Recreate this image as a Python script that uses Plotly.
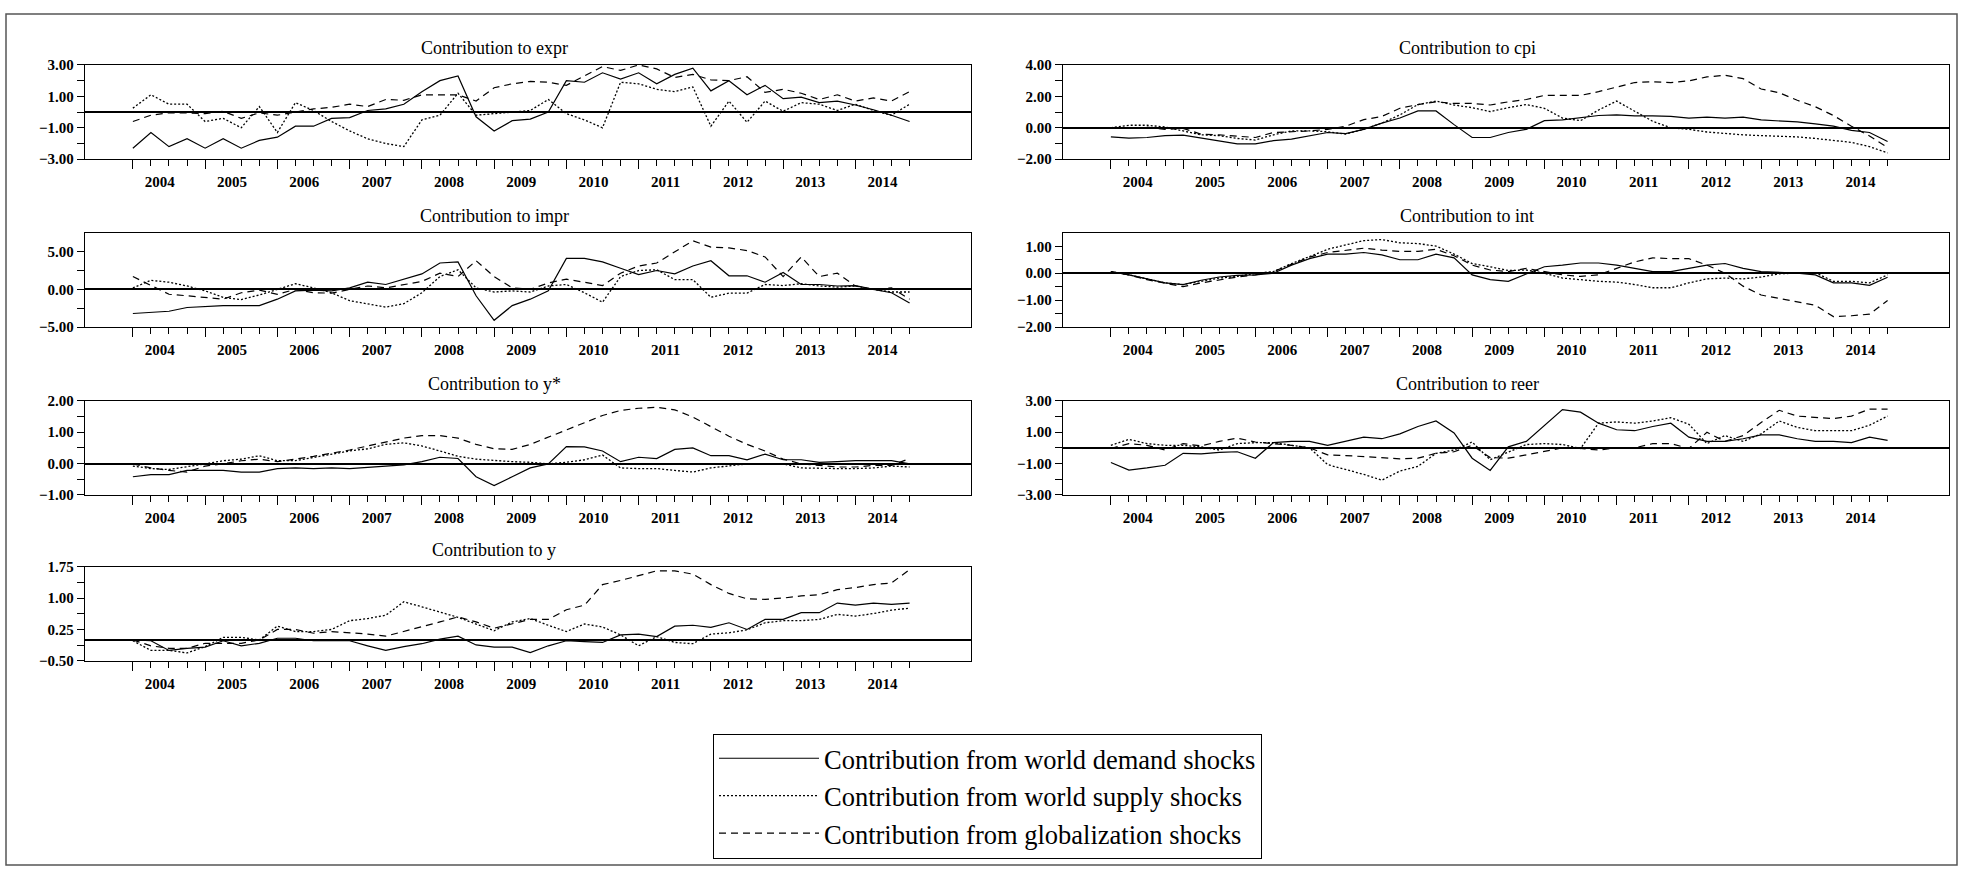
import plotly.graph_objects as go

# ---------------- data (quarterly, 2004Q1 .. 2014Q4) ----------------
quarters = [f"{yr}Q{q}" for yr in range(2004, 2015) for q in range(1, 5)]
years = [str(yr) for yr in range(2004, 2015)]

expr_demand = [-2.3, -1.3, -2.2, -1.7, -2.3, -1.7, -2.3, -1.8, -1.6, -0.9,
               -0.9, -0.4, -0.35, 0.1, 0.2, 0.5, 1.3, 2.0, 2.3, -0.3,
               -1.2, -0.55, -0.45, 0.0, 2.0, 1.9, 2.5, 2.1, 2.5, 1.8,
               2.4, 2.8, 1.35, 2.0, 1.1, 1.7, 0.85, 0.95, 0.6, 0.7,
               0.45, 0.15, -0.2, -0.6]
expr_supply = [0.25, 1.1, 0.5, 0.5, -0.6, -0.4, -1.0, 0.35, -1.3, 0.6,
               0.1, -0.6, -1.2, -1.7, -2.0, -2.2, -0.5, -0.2, 1.2, -0.2,
               -0.1, 0.0, 0.1, 0.8, -0.1, -0.5, -1.0, 1.9, 1.8, 1.45,
               1.3, 1.6, -0.9, 0.7, -0.65, 0.7, 0.05, 0.6, 0.5, 0.1,
               0.5, 0.1, -0.2, 0.5]
expr_glob = [-0.6, -0.2, -0.05, -0.05, -0.1, 0.05, -0.4, -0.05, -0.2, 0.0,
             0.2, 0.3, 0.5, 0.35, 0.8, 0.75, 1.1, 1.1, 1.1, 0.7,
             1.55, 1.8, 1.95, 1.9, 1.7, 2.3, 2.9, 2.65, 3.0, 2.75,
             2.2, 2.4, 2.05, 2.0, 2.25, 1.25, 1.45, 1.2, 0.8, 1.1,
             0.7, 0.9, 0.7, 1.3]

cpi_demand = [-0.58, -0.66, -0.62, -0.5, -0.47, -0.66, -0.82, -1.03, -1.03, -0.82,
              -0.72, -0.5, -0.3, -0.37, -0.1, 0.3, 0.62, 1.07, 1.07, 0.2,
              -0.62, -0.62, -0.3, -0.1, 0.45, 0.5, 0.62, 0.78, 0.82, 0.76,
              0.76, 0.72, 0.62, 0.68, 0.62, 0.68, 0.5, 0.45, 0.37, 0.25,
              0.1, -0.17, -0.3, -0.87]
cpi_supply = [0.0, 0.16, 0.16, 0.05, -0.2, -0.45, -0.5, -0.68, -0.78, -0.45,
              -0.2, -0.2, -0.25, -0.4, -0.1, 0.3, 0.82, 1.48, 1.7, 1.45,
              1.28, 1.03, 1.28, 1.48, 1.24, 0.62, 0.45, 1.13, 1.7, 1.03,
              0.41, 0.0, -0.1, -0.27, -0.37, -0.45, -0.5, -0.52, -0.58, -0.68,
              -0.82, -0.93, -1.2, -1.6]
cpi_glob = [-0.04, -0.04, 0.04, -0.1, -0.04, -0.41, -0.45, -0.52, -0.62, -0.3,
            -0.25, -0.2, -0.1, 0.1, 0.52, 0.72, 1.24, 1.48, 1.65, 1.55,
            1.55, 1.45, 1.65, 1.8, 2.06, 2.06, 2.06, 2.3, 2.58, 2.88,
            2.93, 2.88, 2.99, 3.24, 3.34, 3.13, 2.47, 2.23, 1.75, 1.34,
            0.78, 0.1, -0.52, -1.25]

impr_demand = [-3.2, -3.1, -2.9, -2.4, -2.3, -2.15, -2.15, -2.15, -1.3, -0.2,
               -0.1, -0.2, 0.2, 0.95, 0.65, 1.35, 2.05, 3.5, 3.65, -0.85,
               -4.1, -2.15, -1.3, -0.2, 4.1, 4.1, 3.65, 2.8, 1.95, 2.5,
               2.05, 3.1, 3.8, 1.8, 1.8, 0.95, 2.25, 0.65, 0.65, 0.45,
               0.5, 0.0, -0.45, -1.8]
impr_supply = [0.2, 1.2, 0.95, 0.45, -0.2, -1.05, -1.35, -0.75, 0.0, 0.75,
               0.2, -0.45, -1.5, -1.9, -2.35, -1.9, -0.45, 1.7, 2.6, 0.2,
               -0.35, -0.2, -0.35, 0.45, 0.65, -0.45, -1.7, 1.7, 2.5, 2.6,
               1.3, 1.3, -1.05, -0.5, -0.5, 0.65, 0.5, 0.75, 0.45, 0.3,
               0.45, 0.0, -0.35, -0.35]
impr_glob = [1.7, 0.5, -0.65, -0.85, -1.05, -1.3, -0.45, -0.1, -0.65, 0.0,
             -0.45, -0.5, 0.0, 0.45, 0.2, 0.65, 1.05, 2.15, 1.7, 3.8,
             1.7, 0.2, 0.0, 0.85, 1.35, 0.95, 0.5, 2.15, 3.1, 3.5,
             4.95, 6.45, 5.6, 5.5, 5.15, 4.3, 1.7, 4.3, 1.7, 2.15,
             0.45, 0.0, 0.2, -1.3]

int_demand = [0.06, -0.06, -0.21, -0.36, -0.42, -0.26, -0.14, -0.08, -0.06, 0.0,
              0.3, 0.54, 0.71, 0.71, 0.77, 0.68, 0.5, 0.5, 0.71, 0.57,
              -0.06, -0.24, -0.3, -0.02, 0.24, 0.3, 0.38, 0.38, 0.3, 0.18,
              0.06, 0.06, 0.18, 0.3, 0.36, 0.18, 0.06, 0.04, 0.0, -0.06,
              -0.36, -0.36, -0.45, -0.15]
int_supply = [0.06, -0.06, -0.21, -0.36, -0.42, -0.3, -0.18, -0.12, 0.0, 0.06,
              0.36, 0.62, 0.89, 1.05, 1.21, 1.25, 1.13, 1.1, 1.01, 0.71,
              0.36, 0.24, 0.1, 0.12, 0.0, -0.18, -0.24, -0.3, -0.33, -0.42,
              -0.54, -0.54, -0.36, -0.21, -0.18, -0.21, -0.14, -0.02, 0.0, 0.02,
              -0.3, -0.3, -0.36, -0.06]
int_glob = [0.06, -0.06, -0.24, -0.38, -0.5, -0.36, -0.24, -0.14, -0.06, 0.06,
            0.33, 0.6, 0.77, 0.86, 0.93, 0.86, 0.81, 0.81, 0.89, 0.65,
            0.3, 0.12, 0.06, 0.18, 0.06, -0.06, -0.12, -0.06, 0.18, 0.42,
            0.57, 0.54, 0.54, 0.3, 0.0, -0.48, -0.81, -0.93, -1.07, -1.19,
            -1.61, -1.58, -1.52, -1.01]

ystar_demand = [-0.42, -0.35, -0.35, -0.22, -0.22, -0.22, -0.27, -0.27, -0.16, -0.14,
                -0.16, -0.14, -0.16, -0.11, -0.08, -0.04, 0.06, 0.2, 0.16, -0.42,
                -0.7, -0.42, -0.14, -0.01, 0.54, 0.53, 0.4, 0.06, 0.2, 0.16,
                0.45, 0.5, 0.25, 0.25, 0.12, 0.3, 0.12, 0.12, 0.04, 0.06,
                0.09, 0.09, 0.09, -0.01]
ystar_supply = [-0.08, -0.16, -0.19, -0.11, -0.01, 0.09, 0.14, 0.25, 0.09, 0.09,
                0.2, 0.3, 0.4, 0.47, 0.61, 0.66, 0.56, 0.4, 0.23, 0.14,
                0.09, 0.06, 0.04, -0.01, 0.04, 0.12, 0.27, -0.14, -0.16, -0.16,
                -0.22, -0.27, -0.14, -0.08, -0.01, -0.01, -0.01, -0.14, -0.16, -0.16,
                -0.16, -0.14, -0.08, -0.11]
ystar_glob = [-0.01, -0.14, -0.22, -0.27, -0.08, -0.01, 0.09, 0.14, 0.06, 0.14,
              0.23, 0.33, 0.43, 0.56, 0.68, 0.81, 0.89, 0.89, 0.81, 0.61,
              0.47, 0.45, 0.61, 0.85, 1.07, 1.3, 1.53, 1.69, 1.76, 1.79,
              1.71, 1.48, 1.18, 0.87, 0.61, 0.4, 0.14, -0.01, -0.06, -0.11,
              -0.11, -0.06, -0.06, 0.16]

reer_demand = [-0.93, -1.42, -1.28, -1.11, -0.35, -0.39, -0.29, -0.25, -0.66, 0.33,
               0.41, 0.41, 0.16, 0.41, 0.68, 0.58, 0.89, 1.36, 1.71, 0.95,
               -0.66, -1.44, 0.06, 0.41, 1.4, 2.43, 2.27, 1.57, 1.15, 1.09,
               1.36, 1.57, 0.68, 0.41, 0.41, 0.58, 0.82, 0.82, 0.58, 0.41,
               0.41, 0.33, 0.68, 0.47]
reer_supply = [0.16, 0.54, 0.27, 0.16, 0.16, 0.06, -0.14, 0.27, 0.33, 0.33,
               0.16, 0.0, -1.07, -1.38, -1.69, -2.06, -1.48, -1.18, -0.35, -0.14,
               0.37, -0.76, -0.25, 0.21, 0.27, 0.21, -0.04, 1.57, 1.65, 1.57,
               1.71, 1.92, 1.5, 0.27, 0.78, 0.41, 0.89, 1.71, 1.3, 1.09,
               1.09, 1.09, 1.44, 2.02]
reer_glob = [-0.04, 0.27, 0.16, -0.14, 0.27, 0.12, 0.41, 0.62, 0.37, 0.27,
             0.16, 0.0, -0.45, -0.49, -0.56, -0.62, -0.7, -0.66, -0.35, -0.25,
             0.16, -0.62, -0.66, -0.45, -0.21, 0.0, -0.04, -0.14, 0.0, 0.0,
             0.27, 0.27, -0.04, 0.99, 0.41, 0.78, 1.61, 2.39, 2.02, 1.92,
             1.86, 2.02, 2.47, 2.47]

y_demand = [0.0, -0.02, -0.25, -0.2, -0.17, -0.02, -0.14, -0.08, 0.04, 0.04,
            -0.02, -0.02, -0.02, -0.14, -0.25, -0.16, -0.09, 0.02, 0.09, -0.12,
            -0.17, -0.17, -0.3, -0.14, -0.02, -0.04, -0.06, 0.12, 0.14, 0.08,
            0.33, 0.35, 0.3, 0.41, 0.25, 0.49, 0.49, 0.65, 0.65, 0.88,
            0.83, 0.88, 0.85, 0.88]
y_supply = [-0.02, -0.25, -0.25, -0.31, -0.16, 0.06, 0.06, 0.0, 0.33, 0.2,
            0.2, 0.25, 0.46, 0.51, 0.59, 0.91, 0.79, 0.67, 0.54, 0.38,
            0.22, 0.43, 0.51, 0.35, 0.2, 0.38, 0.31, 0.12, -0.14, 0.08,
            -0.06, -0.09, 0.14, 0.17, 0.24, 0.41, 0.46, 0.46, 0.49, 0.61,
            0.57, 0.63, 0.71, 0.76]
y_glob = [0.0, -0.14, -0.2, -0.2, -0.08, -0.08, -0.08, 0.0, 0.25, 0.25,
          0.16, 0.2, 0.17, 0.14, 0.09, 0.2, 0.31, 0.43, 0.55, 0.43,
          0.28, 0.38, 0.49, 0.49, 0.72, 0.83, 1.32, 1.42, 1.54, 1.65,
          1.65, 1.57, 1.32, 1.11, 0.98, 0.97, 1.0, 1.05, 1.08, 1.2,
          1.25, 1.32, 1.36, 1.68]

series_names = ["Contribution from world demand shocks",
                "Contribution from world supply shocks",
                "Contribution from globalization shocks"]

# panel: title, series, y range, labelled ticks, minor ticks, (row, col)
panels = [
    ("Contribution to expr", (expr_demand, expr_supply, expr_glob), [-3, 3], [-3, -1, 1, 3], [-2, 0, 2], (0, 0)),
    ("Contribution to cpi", (cpi_demand, cpi_supply, cpi_glob), [-2, 4], [-2, 0, 2, 4], [-1, 1, 3], (0, 1)),
    ("Contribution to impr", (impr_demand, impr_supply, impr_glob), [-5, 7.5], [-5, 0, 5], [-2.5, 2.5], (1, 0)),
    ("Contribution to int", (int_demand, int_supply, int_glob), [-2, 1.5], [-2, -1, 0, 1], [-1.5, -0.5, 0.5], (1, 1)),
    ("Contribution to y*", (ystar_demand, ystar_supply, ystar_glob), [-1, 2], [-1, 0, 1, 2], [-0.5, 0.5, 1.5], (2, 0)),
    ("Contribution to reer", (reer_demand, reer_supply, reer_glob), [-3, 3], [-3, -1, 1, 3], [-2, 0, 2], (2, 1)),
    ("Contribution to y", (y_demand, y_supply, y_glob), [-0.5, 1.75], [-0.5, 0.25, 1.0, 1.75], [-0.125, 0.625, 1.375], (3, 0)),
]

# ---------------- layout geometry (pixels) ----------------
W, H = 1963, 878
col_x = [(85, 971), (1063, 1949)]
col_title_x = [494, 1467]
row_tops = [58, 229, 400, 569]
plot_h = 96
SERIF = "Liberation Serif"

line_styles = [dict(color="black", width=1.2),
               dict(color="black", width=1.3, dash="2px,2px"),
               dict(color="black", width=1.2, dash="7px,5px")]

x_idx = list(range(len(quarters)))
year_starts = [i for i, q in enumerate(quarters) if q.endswith("Q1")]
quarter_minor = [i for i, q in enumerate(quarters) if not q.endswith("Q1")]

fig = go.Figure()
layout_axes = {}
annotations = []
tick_font = dict(family=SERIF, size=15, color="black", weight="bold")

for k, (title, series, yr, ymaj, ymin, (r, c)) in enumerate(panels):
    n = k + 1
    xa = "x" if n == 1 else f"x{n}"
    ya = "y" if n == 1 else f"y{n}"
    for j, (vals, name) in enumerate(zip(series, series_names)):
        fig.add_trace(go.Scatter(
            x=x_idx, y=vals, mode="lines", name=name,
            line=line_styles[j], xaxis=xa, yaxis=ya,
            showlegend=(k == 0), hoverinfo="x+y"))
    x0, x1 = col_x[c]
    top = row_tops[r]
    bot = top + plot_h
    layout_axes["xaxis" if n == 1 else f"xaxis{n}"] = dict(
        domain=[x0 / W, x1 / W], anchor=ya, range=[-2.65, 46.4],
        showgrid=False, zeroline=False, showline=True, linecolor="black",
        linewidth=1.3, mirror=True,
        tickmode="array", tickvals=year_starts, ticktext=years,
        ticks="outside", ticklen=9, tickwidth=1, tickcolor="black",
        ticklabelshift=27,
        tickfont=tick_font,
        minor=dict(tickmode="array", tickvals=quarter_minor, ticks="outside",
                   ticklen=6, tickwidth=1, tickcolor="black", showgrid=False),
        fixedrange=True)
    layout_axes["yaxis" if n == 1 else f"yaxis{n}"] = dict(
        domain=[1 - bot / H, 1 - top / H], anchor=xa, range=yr,
        showgrid=False, zeroline=True, zerolinecolor="black", zerolinewidth=1.6,
        showline=True, linecolor="black", linewidth=1.3, mirror=True,
        tickmode="array", tickvals=ymaj, tickformat=".2f",
        ticks="outside", ticklen=7, tickwidth=1, tickcolor="black",
        tickfont=tick_font,
        minor=dict(tickmode="array", tickvals=ymin, ticks="outside",
                   ticklen=7, tickwidth=1, tickcolor="black", showgrid=False),
        fixedrange=True)
    annotations.append(dict(
        text=title, xref="paper", yref="paper",
        x=col_title_x[c] / W, y=1 - top / H, xanchor="center", yanchor="middle",
        yshift=17, showarrow=False,
        font=dict(family=SERIF, size=18, color="black")))

fig.update_layout(
    width=W, height=H, autosize=False,
    margin=dict(l=0, r=0, t=0, b=0),
    paper_bgcolor="white", plot_bgcolor="white",
    font=dict(family=SERIF, color="black"),
    annotations=annotations,
    shapes=[dict(type="rect", xref="paper", yref="paper",
                 x0=6 / W, x1=1957 / W, y0=1 - 873 / H, y1=1 - 6 / H,
                 line=dict(color="#555555", width=1.5), layer="below")],
    legend=dict(x=713 / W, y=1 - 739 / H, xanchor="left", yanchor="top",
                bordercolor="black", borderwidth=1, bgcolor="white",
                font=dict(family=SERIF, size=26.5, color="black"),
                itemwidth=100, tracegroupgap=0),
    **layout_axes,
)

fig.write_html("out.html")
